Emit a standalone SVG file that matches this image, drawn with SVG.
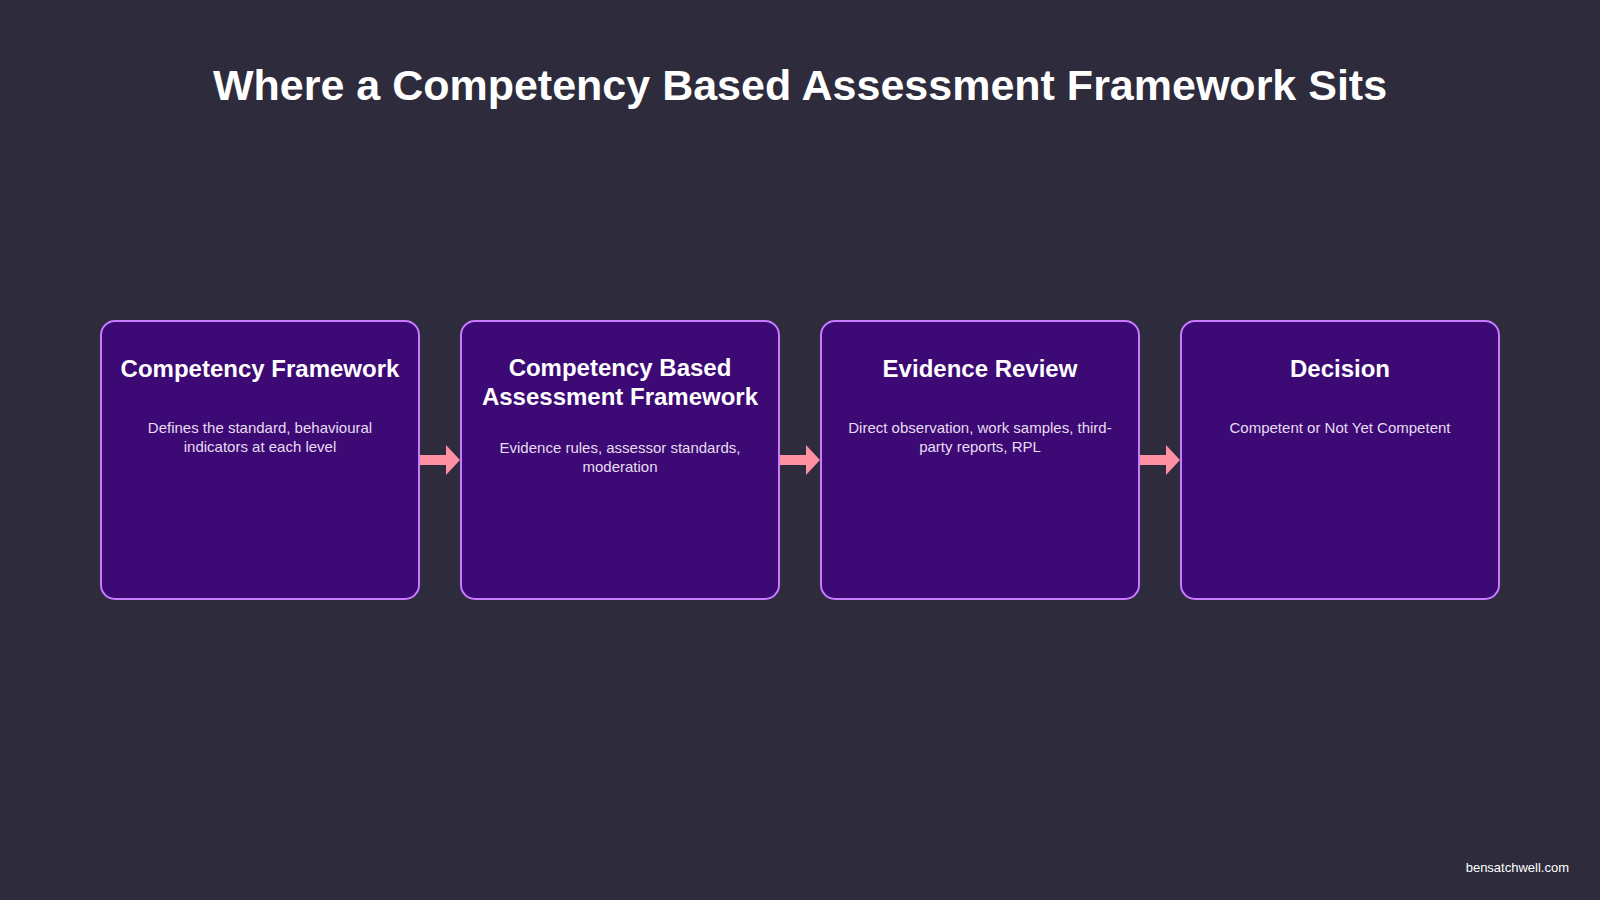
<svg xmlns="http://www.w3.org/2000/svg" width="1600" height="900" viewBox="0 0 1600 900">
<style>
.box{fill:#3d0a75;stroke:#c77dff;stroke-width:2}
.t{font-family:"Liberation Sans",Arial,sans-serif;fill:#fff;text-anchor:middle}
.h{font-size:24px;font-weight:bold}
.d{font-size:15px;fill:#e6ddf0}
</style>
<defs><marker id="ah" markerWidth="4" markerHeight="4" refX="2" refY="2" orient="auto" markerUnits="userSpaceOnUse" viewBox="0 0 4 4"><path d="M0,0 L4,2 L0,4 Z" fill="#ff8fa3"/></marker></defs>
<rect width="1600" height="900" fill="#2d2b3c"/>
<text class="t" x="800" y="100" font-size="43" font-weight="bold">Where a Competency Based Assessment Framework Sits</text>
<g id="connectors" fill="#ff8fa3">
<path d="M420,455 h26 v-10 l14,15 l-14,15 v-10 h-26 z"/>
<path d="M780,455 h26 v-10 l14,15 l-14,15 v-10 h-26 z"/>
<path d="M1140,455 h26 v-10 l14,15 l-14,15 v-10 h-26 z"/>
</g>
<g id="n1"><rect class="box" x="101" y="321" width="318" height="278" rx="14"/>
<text class="t h" x="260" y="377">Competency Framework</text>
<text class="t d" x="260" y="433">Defines the standard, behavioural</text>
<text class="t d" x="260" y="452">indicators at each level</text></g>
<g id="n2"><rect class="box" x="461" y="321" width="318" height="278" rx="14"/>
<text class="t h" x="620" y="376">Competency Based</text>
<text class="t h" x="620" y="405">Assessment Framework</text>
<text class="t d" x="620" y="453">Evidence rules, assessor standards,</text>
<text class="t d" x="620" y="472">moderation</text></g>
<g id="n3"><rect class="box" x="821" y="321" width="318" height="278" rx="14"/>
<text class="t h" x="980" y="377">Evidence Review</text>
<text class="t d" x="980" y="433">Direct observation, work samples, third-</text>
<text class="t d" x="980" y="452">party reports, RPL</text></g>
<g id="n4"><rect class="box" x="1181" y="321" width="318" height="278" rx="14"/>
<text class="t h" x="1340" y="377">Decision</text>
<text class="t d" x="1340" y="433">Competent or Not Yet Competent</text></g>
<text class="t" x="1569" y="872" font-size="13" fill="#e0e0e0" text-anchor="end" style="text-anchor:end">bensatchwell.com</text>
</svg>
